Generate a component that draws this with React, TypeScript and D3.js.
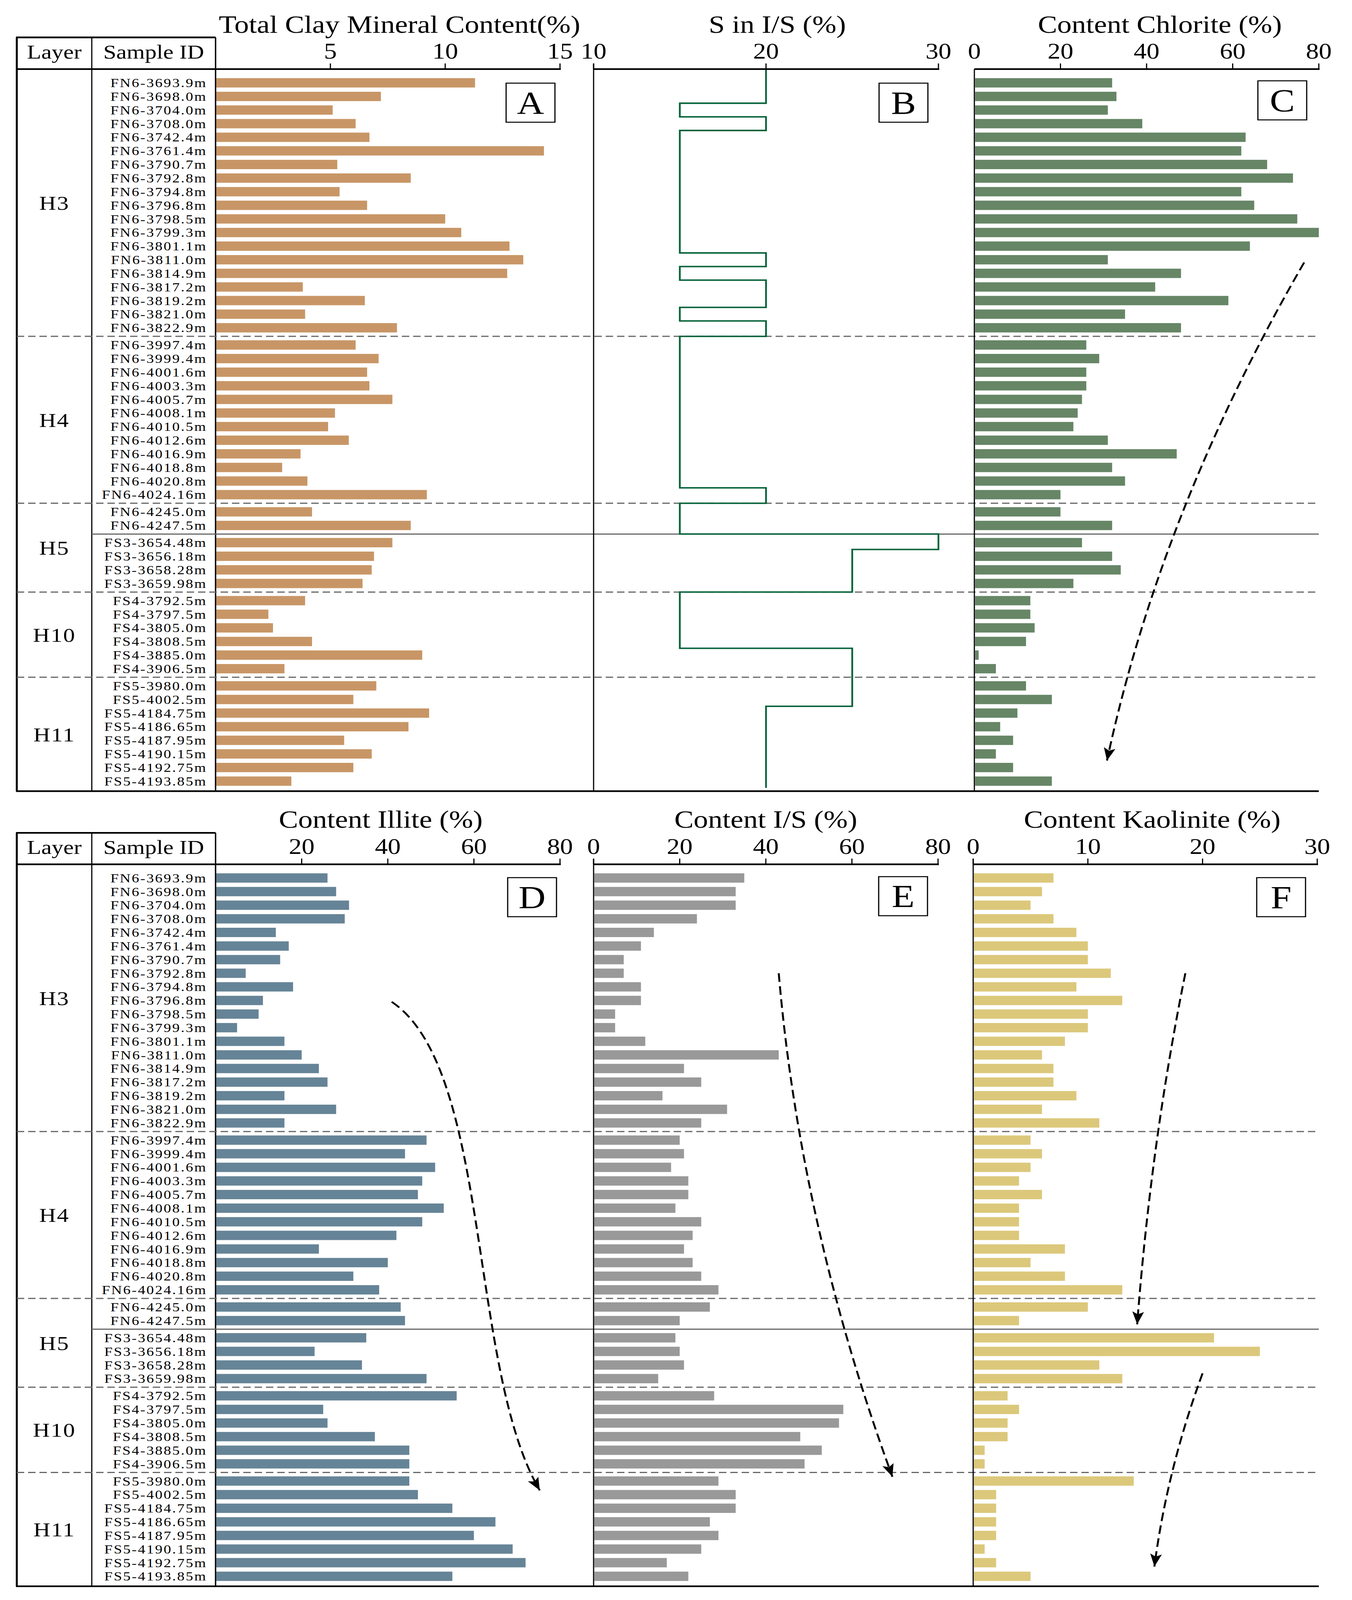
import * as d3 from "d3";

const W = 3462;
const H = 4791;
const FONT = "'Liberation Serif', 'Times New Roman', serif";

// ---- data ----
const SAMPLES = [
  "FN6-3693.9m", "FN6-3698.0m", "FN6-3704.0m", "FN6-3708.0m", "FN6-3742.4m", "FN6-3761.4m",
  "FN6-3790.7m", "FN6-3792.8m", "FN6-3794.8m", "FN6-3796.8m", "FN6-3798.5m", "FN6-3799.3m",
  "FN6-3801.1m", "FN6-3811.0m", "FN6-3814.9m", "FN6-3817.2m", "FN6-3819.2m", "FN6-3821.0m",
  "FN6-3822.9m",
  "FN6-3997.4m", "FN6-3999.4m", "FN6-4001.6m", "FN6-4003.3m", "FN6-4005.7m", "FN6-4008.1m",
  "FN6-4010.5m", "FN6-4012.6m", "FN6-4016.9m", "FN6-4018.8m", "FN6-4020.8m", "FN6-4024.16m",
  "FN6-4245.0m", "FN6-4247.5m", "FS3-3654.48m", "FS3-3656.18m", "FS3-3658.28m", "FS3-3659.98m",
  "FS4-3792.5m", "FS4-3797.5m", "FS4-3805.0m", "FS4-3808.5m", "FS4-3885.0m", "FS4-3906.5m",
  "FS5-3980.0m", "FS5-4002.5m", "FS5-4184.75m", "FS5-4186.65m", "FS5-4187.95m", "FS5-4190.15m",
  "FS5-4192.75m", "FS5-4193.85m",
];

const LAYERS = ["H3", "H4", "H5", "H10", "H11"];
const LAYER_SIZES = [19, 12, 6, 6, 8];
const WELL_BREAKS = [33]; // FN6 -> FS3 inside H5

const TOTAL_CLAY = [
  11.3, 7.2, 5.1, 6.1, 6.7, 14.3, 5.3, 8.5, 5.4, 6.6, 10.0, 10.7, 12.8, 13.4, 12.7, 3.8, 6.5, 3.9, 7.9,
  6.1, 7.1, 6.6, 6.7, 7.7, 5.2, 4.9, 5.8, 3.7, 2.9, 4.0, 9.2,
  4.2, 8.5, 7.7, 6.9, 6.8, 6.4,
  3.9, 2.3, 2.5, 4.2, 9.0, 3.0,
  7.0, 6.0, 9.3, 8.4, 5.6, 6.8, 6.0, 3.3,
];
const S_IN_IS = [
  20, 20, 15, 20, 15, 15, 15, 15, 15, 15, 15, 15, 15, 20, 15, 20, 20, 15, 20,
  15, 15, 15, 15, 15, 15, 15, 15, 15, 15, 15, 20,
  15, 15, 30, 25, 25, 25,
  15, 15, 15, 15, 25, 25,
  25, 25, 20, 20, 20, 20, 20, 20,
];
const CHLORITE = [
  32, 33, 31, 39, 63, 62, 68, 74, 62, 65, 75, 80, 64, 31, 48, 42, 59, 35, 48,
  26, 29, 26, 26, 25, 24, 23, 31, 47, 32, 35, 20,
  20, 32, 25, 32, 34, 23,
  13, 13, 14, 12, 1, 5,
  12, 18, 10, 6, 9, 5, 9, 18,
];
const ILLITE = [
  26, 28, 31, 30, 14, 17, 15, 7, 18, 11, 10, 5, 16, 20, 24, 26, 16, 28, 16,
  49, 44, 51, 48, 47, 53, 48, 42, 24, 40, 32, 38,
  43, 44, 35, 23, 34, 49,
  56, 25, 26, 37, 45, 45,
  45, 47, 55, 65, 60, 69, 72, 55,
];
const IS_CONTENT = [
  35, 33, 33, 24, 14, 11, 7, 7, 11, 11, 5, 5, 12, 43, 21, 25, 16, 31, 25,
  20, 21, 18, 22, 22, 19, 25, 23, 21, 23, 25, 29,
  27, 20, 19, 20, 21, 15,
  28, 58, 57, 48, 53, 49,
  29, 33, 33, 27, 29, 25, 17, 22,
];
const KAOLINITE = [
  7, 6, 5, 7, 9, 10, 10, 12, 9, 13, 10, 10, 8, 6, 7, 7, 9, 6, 11,
  5, 6, 5, 4, 6, 4, 4, 4, 8, 5, 8, 13,
  10, 4, 21, 25, 11, 13,
  3, 4, 3, 3, 1, 1,
  14, 2, 2, 2, 2, 1, 2, 5,
];

const TICKS_A = [5, 10, 15];
const TICKS_B = [10, 20, 30];
const TICKS_80 = [0, 20, 40, 60, 80];
const TICKS_D = [20, 40, 60, 80];
const TICKS_F = [0, 10, 20, 30];

// trend arrows, in (value, row slot) units of each panel
const ARROW_C: [number, number][] = [[76.6, 13.2], [43.3, 31.4], [30.8, 49.8]];
const ARROW_D: [number, number][] = [[40.9, 9.1], [64.1, 14.0], [58.7, 36.1], [75.3, 45.0]];
const ARROW_E: [number, number][] = [[43.0, 7.0], [48.0, 25.5], [69.4, 44.0]];
const ARROW_F1: [number, number][] = [[18.5, 7.0], [15.5, 19.5], [14.3, 32.8]];
const ARROW_F2: [number, number][] = [[20.0, 36.4], [16.9, 43.5], [15.8, 50.6]];

// ---- layout ----
const PITCH = 40.75;
const GAP = 0.2626;
const BAR_H = 28;
const TABLE_L = 43;
const LAYER_DIV = 235;
const SAMPLE_DIV = 552;
const RIGHT_END = 3377;

const HALVES = [
  { headerTop: 112, axisY: 207, rowY0: 248, bottom: 2369 },
  { headerTop: 2494, axisY: 2588, rowY0: 2629, bottom: 4750 },
];

type Panel = {
  title: string;
  values: number[];
  domain: [number, number];
  range: [number, number];
  ticks: number[];
  color: string;
  kind: "bar" | "step";
  letter: string;
  titleDx: number;
  boxPad: number;
  boxDy: number;
  leftLine: "none" | "tick" | "axis";
  arrows: [number, number][][];
};

const TOP_PANELS: Panel[] = [
  { title: "Total Clay Mineral Content(%)", values: TOTAL_CLAY, domain: [0, 15], range: [552, 1434], ticks: TICKS_A, color: "#c89666", kind: "bar", letter: "A", titleDx: 30, boxPad: 13, boxDy: 1, leftLine: "none", arrows: [] },
  { title: "S in I/S (%)", values: S_IN_IS, domain: [10, 30], range: [1520, 2403], ticks: TICKS_B, color: "#06633a", kind: "step", letter: "B", titleDx: 29, boxPad: 27, boxDy: 1, leftLine: "tick", arrows: [] },
  { title: "Content Chlorite (%)", values: CHLORITE, domain: [0, 80], range: [2495, 3377], ticks: TICKS_80, color: "#668666", kind: "bar", letter: "C", titleDx: 34, boxPad: 31, boxDy: -6, leftLine: "axis", arrows: [ARROW_C] },
];
const BOTTOM_PANELS: Panel[] = [
  { title: "Content Illite (%)", values: ILLITE, domain: [0, 80], range: [552, 1434], ticks: TICKS_D, color: "#668497", kind: "bar", letter: "D", titleDx: -18, boxPad: 9, boxDy: -1, leftLine: "none", arrows: [ARROW_D] },
  { title: "Content I/S (%)", values: IS_CONTENT, domain: [0, 80], range: [1520, 2402], ticks: TICKS_80, color: "#999999", kind: "bar", letter: "E", titleDx: 0, boxPad: 27, boxDy: -4, leftLine: "tick", arrows: [ARROW_E] },
  { title: "Content Kaolinite (%)", values: KAOLINITE, domain: [0, 30], range: [2492, 3373], ticks: TICKS_F, color: "#dcc87b", kind: "bar", letter: "F", titleDx: 18, boxPad: 30, boxDy: -1, leftLine: "tick", arrows: [ARROW_F1, ARROW_F2] },
];

// break indices (first row of a new block)
const LAYER_STARTS: number[] = Array.from(d3.cumsum(LAYER_SIZES)).slice(0, -1);
const ALL_BREAKS = [...LAYER_STARTS, ...WELL_BREAKS].sort((a, b) => a - b);
const slotOf = (i: number) => i + GAP * ALL_BREAKS.filter((b) => b <= i).length;

const Arrow = ({ pts, x, y }: { pts: [number, number][]; x: d3.ScaleLinear<number, number>; y: d3.ScaleLinear<number, number> }) => {
  const p = pts.map(([v, s]) => [x(v), y(s)] as [number, number]);
  const path = d3.path();
  path.moveTo(p[0][0], p[0][1]);
  if (p.length === 3) path.quadraticCurveTo(p[1][0], p[1][1], p[2][0], p[2][1]);
  else path.bezierCurveTo(p[1][0], p[1][1], p[2][0], p[2][1], p[3][0], p[3][1]);
  const tip = p[p.length - 1];
  const prev = p[p.length - 2];
  const len = Math.hypot(tip[0] - prev[0], tip[1] - prev[1]);
  const ux = (tip[0] - prev[0]) / len;
  const uy = (tip[1] - prev[1]) / len;
  const L = 38;
  const HW = 15;
  const bx = tip[0] - ux * L;
  const by = tip[1] - uy * L;
  const head = `M${tip[0]},${tip[1]}L${bx - uy * HW},${by + ux * HW}L${bx + ux * 8},${by + uy * 8}L${bx + uy * HW},${by - ux * HW}Z`;
  return (
    <g>
      <path d={path.toString()} fill="none" stroke="#000" strokeWidth={5} strokeDasharray="26 13" />
      <path d={head} fill="#000" />
    </g>
  );
};

const Half = ({ half, panels }: { half: typeof HALVES[number]; panels: Panel[] }) => {
  const { headerTop, axisY, rowY0, bottom } = half;
  const y = d3.scaleLinear().domain([0, 1]).range([rowY0, rowY0 + PITCH]);
  const rowY = (i: number) => y(slotOf(i));
  const lastY = rowY(SAMPLES.length - 1);
  const sepY = (k: number) => (rowY(k - 1) + rowY(k)) / 2;

  const groupMid = LAYERS.map((_, g) => {
    const top = g === 0 ? axisY : sepY(LAYER_STARTS[g - 1]);
    const bot = g === LAYERS.length - 1 ? bottom : sepY(LAYER_STARTS[g]);
    return (top + bot) / 2;
  });

  return (
    <g>
      {/* header table */}
      <line x1={TABLE_L - 2} x2={SAMPLE_DIV} y1={headerTop} y2={headerTop} stroke="#000" strokeWidth={5} />
      <line x1={TABLE_L} x2={TABLE_L} y1={headerTop} y2={bottom} stroke="#000" strokeWidth={5} />
      <line x1={LAYER_DIV} x2={LAYER_DIV} y1={headerTop} y2={bottom} stroke="#000" strokeWidth={3} />
      <line x1={SAMPLE_DIV} x2={SAMPLE_DIV} y1={headerTop} y2={bottom} stroke="#000" strokeWidth={3.5} />
      <text x={(TABLE_L + LAYER_DIV) / 2} y={axisY - 31} textAnchor="middle" fontSize={60} fontFamily={FONT}>Layer</text>
      <text x={(LAYER_DIV + SAMPLE_DIV) / 2} y={axisY - 31} textAnchor="middle" fontSize={60} fontFamily={FONT}>Sample ID</text>

      {/* separators */}
      {LAYER_STARTS.map((k) => (
        <line key={`d${k}`} x1={TABLE_L} x2={RIGHT_END} y1={sepY(k)} y2={sepY(k)} stroke="#666" strokeWidth={3.5} strokeDasharray="19 10" />
      ))}
      {WELL_BREAKS.map((k) => (
        <line key={`s${k}`} x1={LAYER_DIV} x2={RIGHT_END} y1={sepY(k)} y2={sepY(k)} stroke="#666" strokeWidth={3.5} />
      ))}

      {/* layer names */}
      {LAYERS.map((name, g) => (
        <text key={name} x={(TABLE_L + LAYER_DIV) / 2} y={groupMid[g] + 21} textAnchor="middle" fontSize={60} letterSpacing={2} fontFamily={FONT}>{name}</text>
      ))}

      {/* sample ids */}
      {SAMPLES.map((s, i) => (
        <text key={s} x={SAMPLE_DIV - 22} y={rowY(i) + 13} textAnchor="end" fontSize={38} letterSpacing={3} fontFamily={FONT}>{s}</text>
      ))}

      {panels.map((p, pi) => {
        const x = d3.scaleLinear().domain(p.domain).range(p.range);
        const x0 = x(p.domain[0]);
        const axisStart = pi === 0 ? TABLE_L - 2 : x0;
        const mid = (p.range[0] + p.range[1]) / 2;
        const boxR = p.range[1] - p.boxPad;
        const boxT = rowY0 + p.boxDy;

        let step = "";
        if (p.kind === "step") {
          const pts: [number, number][] = [[x(p.values[0]), axisY]];
          for (let i = 0; i < p.values.length - 1; i++) {
            const yb = sepY(i + 1);
            pts.push([x(p.values[i]), yb], [x(p.values[i + 1]), yb]);
          }
          pts.push([x(p.values[p.values.length - 1]), lastY + PITCH / 2]);
          step = d3.line()(pts) ?? "";
        }

        return (
          <g key={p.letter}>
            {/* title */}
            <text x={mid + p.titleDx} y={axisY - 109} textAnchor="middle" fontSize={74} fontFamily={FONT}>{p.title}</text>

            {/* bars */}
            {p.kind === "bar" && p.values.map((v, i) => (
              <rect key={i} x={x0 + 2} y={rowY(i) - BAR_H / 2} width={Math.max(0, x(v) - x0 - 2)} height={BAR_H} fill={p.color} />
            ))}
            {p.kind === "step" && <path d={step} fill="none" stroke={p.color} strokeWidth={4.5} strokeLinejoin="miter" />}

            {/* left line */}
            {p.leftLine !== "none" && (
              <line x1={x0} x2={x0} y1={p.leftLine === "tick" ? axisY - 17 : axisY} y2={bottom} stroke="#000" strokeWidth={3} />
            )}

            {/* axis */}
            <line x1={axisStart} x2={p.range[1] + 2} y1={axisY} y2={axisY} stroke="#000" strokeWidth={5} />
            {p.ticks.filter((t) => t !== p.domain[0] || p.leftLine === "tick").map((t) => (
              <line key={t} x1={x(t)} x2={x(t)} y1={axisY - 17} y2={axisY} stroke="#000" strokeWidth={3} />
            ))}
            {p.ticks.map((t) => (
              <text key={`l${t}`} x={x(t)} y={axisY - 31} textAnchor="middle" fontSize={66} fontFamily={FONT}>{t}</text>
            ))}

            {/* panel letter */}
            <rect x={boxR - 125} y={boxT} width={125} height={117} fill="#fff" stroke="#000" strokeWidth={3} />
            <text x={boxR - 62.5} y={boxT + 58.5 + 33} textAnchor="middle" fontSize={96} fontFamily={FONT}>{p.letter}</text>

            {p.arrows.map((a, ai) => (
              <Arrow key={ai} pts={a} x={x} y={y} />
            ))}
          </g>
        );
      })}

      {/* bottom border */}
      <line x1={TABLE_L - 2} x2={RIGHT_END} y1={bottom} y2={bottom} stroke="#000" strokeWidth={5} />
    </g>
  );
};

export default function App() {
  // the visible viewport can be shorter than the drawing; fit the full figure into it
  const vh = Math.min(H, typeof window !== "undefined" && window.innerHeight ? window.innerHeight : H);
  return (
    <svg
      width={W}
      height={vh}
      viewBox={`0 0 ${W} ${H}`}
      preserveAspectRatio="none"
      style={{ display: "block", margin: -8, background: "#fff" }}
    >
      <rect width={W} height={H} fill="#fff" />
      <Half half={HALVES[0]} panels={TOP_PANELS} />
      <Half half={HALVES[1]} panels={BOTTOM_PANELS} />
    </svg>
  );
}
